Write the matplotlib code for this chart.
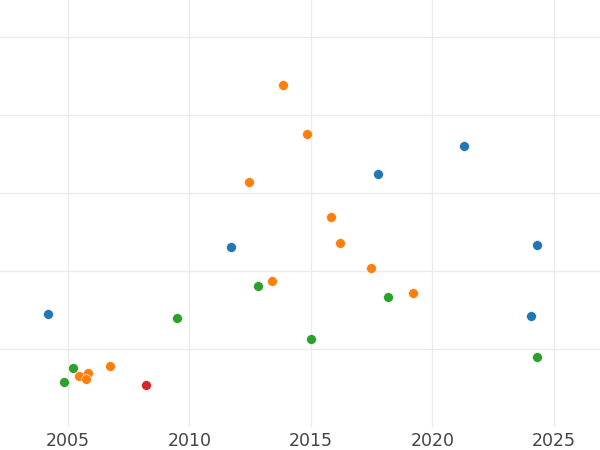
import matplotlib
matplotlib.use("Agg")
import matplotlib.pyplot as plt

# values (y in arbitrary units, gridlines at 1..5)
blue_x = [2004.19, 2011.70, 2017.77, 2021.30, 2024.29, 2024.04]
blue_y = [1.459, 2.316, 3.251, 3.607, 2.334, 1.433]

orange_x = [2013.84, 2014.82, 2012.46, 2015.84, 2016.21, 2017.48, 2019.20,
            2013.41, 2006.74, 2005.47, 2005.82, 2005.74]
orange_y = [4.392, 3.761, 3.152, 2.702, 2.359, 2.046, 1.720,
            1.871, 0.785, 0.662, 0.700, 0.623]

green_x = [2012.83, 2009.49, 2018.17, 2015.00, 2024.30, 2005.19, 2004.82]
green_y = [1.810, 1.399, 1.669, 1.132, 0.901, 0.765, 0.579]

red_x = [2008.20]
red_y = [0.537]

xticks = [2005, 2010, 2015, 2020, 2025]
yticks = [1, 2, 3, 4, 5]

fig = plt.figure(figsize=(6, 4.5), dpi=100)
ax = fig.add_axes([0, 0.052, 1, 0.948])

groups = [(blue_x, blue_y, "#1f77b4"), (orange_x, orange_y, "#ff7f0e"),
          (green_x, green_y, "#2ca02c"), (red_x, red_y, "#d62728")]
for xs, ys, c in groups:
    ax.scatter(xs, ys, s=50, color=c, edgecolors="white", linewidths=0.4, zorder=3)

ax.set_xlim(2002.2, 2026.9)
ax.set_ylim(0.01, 5.48)
ax.set_xticks(xticks)
ax.set_yticks(yticks)
ax.set_yticklabels([])
ax.grid(True, color="#ebebeb", linewidth=1.0)
ax.set_axisbelow(True)
for s in ax.spines.values():
    s.set_visible(False)
ax.tick_params(length=0, labelsize=12.5, labelcolor="#444444", pad=4)

fig.savefig("out.png", dpi=100)
